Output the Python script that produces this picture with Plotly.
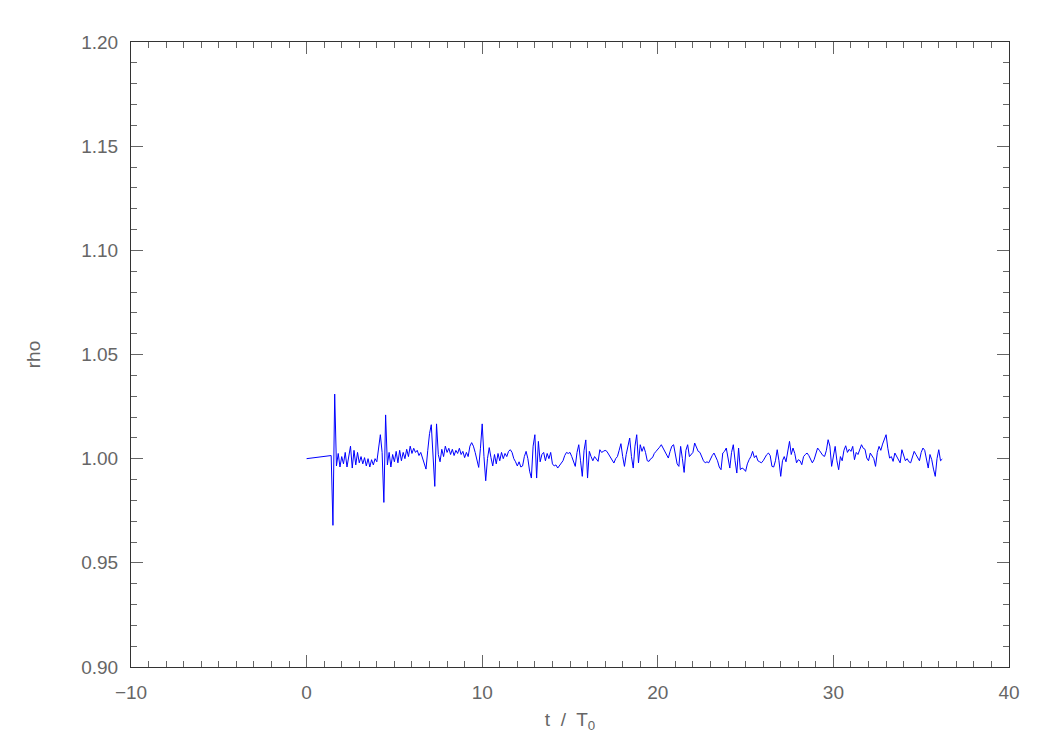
import numpy as np
import plotly.graph_objects as go

# Time samples: an initial point at t=0, then a regular 0.1 T0 grid from 1.4 to 36.2
t_start = [0.0]
t_grid = [round(v, 1) for v in np.arange(1.4, 36.25, 0.1)]
time = t_start + t_grid

rho_start = [1.0000]
rho_01 = [1.0015, 0.9680, 1.0310, 0.9965, 1.0025, 0.9960]
rho_02 = [1.0010, 0.9975, 1.0030, 0.9960, 1.0020, 1.0060, 0.9955, 1.0040, 0.9970, 1.0030]
rho_03 = [0.9980, 1.0010, 0.9975, 1.0005, 0.9965, 1.0000, 0.9960, 0.9995, 0.9970, 1.0000]
rho_04 = [0.9985, 1.0060, 1.0115, 1.0030, 0.9790, 1.0210, 0.9970, 1.0030, 0.9960, 1.0020]
rho_05 = [0.9985, 1.0035, 0.9980, 1.0040, 0.9990, 1.0030, 1.0000, 1.0045, 1.0010, 1.0060]
rho_06 = [1.0025, 1.0050, 1.0030, 1.0040, 1.0015, 1.0030, 1.0000, 0.9975, 0.9950, 1.0040]
rho_07 = [1.0120, 1.0163, 1.0000, 0.9867, 1.0167, 1.0020, 0.9985, 1.0045, 1.0010, 1.0060]
rho_08 = [1.0030, 1.0050, 1.0020, 1.0045, 1.0015, 1.0040, 1.0025, 1.0050, 1.0020, 1.0035]
rho_09 = [1.0005, 1.0030, 1.0010, 1.0060, 1.0077, 1.0060, 1.0030, 0.9990, 0.9958, 1.0050]
rho_10 = [1.0167, 1.0010, 0.9894, 1.0000, 1.0053, 1.0005, 0.9965, 1.0020, 0.9975, 1.0025]
rho_11 = [0.9990, 1.0030, 1.0000, 1.0025, 1.0010, 1.0035, 1.0043, 1.0030, 1.0000, 0.9985]
rho_12 = [0.9965, 0.9985, 0.9960, 0.9965, 1.0010, 1.0035, 1.0000, 0.9940, 0.9907, 1.0060]
rho_13 = [1.0115, 0.9907, 1.0083, 0.9985, 1.0020, 1.0030, 0.9990, 1.0025, 1.0000, 1.0030]
rho_14 = [0.9975, 0.9965, 0.9970, 0.9955, 0.9965, 0.9980, 0.9990, 1.0015, 1.0030, 1.0025]
rho_15 = [1.0030, 1.0010, 0.9985, 0.9963, 1.0030, 1.0067, 0.9990, 0.9915, 1.0040, 1.0090]
rho_16 = [0.9907, 1.0035, 1.0010, 0.9990, 1.0010, 0.9995, 0.9987, 1.0043, 1.0030, 1.0035]
rho_17 = [1.0040, 1.0035, 1.0020, 1.0010, 0.9990, 0.9979, 1.0000, 1.0010, 1.0040, 1.0072]
rho_18 = [1.0010, 0.9963, 1.0020, 1.0070, 1.0099, 1.0010, 0.9955, 1.0060, 1.0115, 0.9980]
rho_19 = [1.0067, 1.0035, 1.0058, 1.0030, 0.9990, 0.9987, 1.0000, 1.0005, 1.0025, 1.0035]
rho_20 = [1.0043, 1.0055, 1.0067, 1.0050, 1.0040, 1.0015, 1.0003, 1.0035, 1.0060, 1.0067]
rho_21 = [1.0020, 0.9975, 0.9963, 1.0059, 1.0000, 0.9934, 1.0040, 1.0067, 1.0010, 1.0020]
rho_22 = [1.0030, 1.0075, 1.0050, 1.0035, 1.0030, 1.0010, 0.9990, 0.9980, 0.9985, 0.9980]
rho_23 = [1.0000, 1.0015, 1.0027, 1.0010, 0.9990, 0.9960, 0.9947, 1.0027, 1.0035, 1.0051]
rho_24 = [0.9990, 0.9955, 1.0030, 1.0067, 0.9990, 0.9931, 1.0051, 0.9947, 0.9955, 0.9950]
rho_25 = [0.9939, 0.9975, 0.9995, 1.0010, 1.0035, 1.0005, 1.0015, 0.9990, 0.9985, 0.9980]
rho_26 = [0.9990, 1.0005, 1.0019, 1.0027, 1.0015, 0.9963, 0.9960, 0.9990, 1.0043, 0.9990]
rho_27 = [0.9915, 0.9990, 1.0010, 0.9985, 1.0040, 1.0083, 1.0020, 1.0051, 1.0025, 0.9980]
rho_28 = [0.9995, 0.9990, 0.9971, 1.0010, 1.0020, 1.0027, 1.0015, 0.9995, 0.9980, 0.9995]
rho_29 = [1.0030, 1.0051, 1.0040, 1.0030, 1.0015, 1.0011, 1.0040, 1.0091, 1.0060, 0.9963]
rho_30 = [1.0020, 1.0059, 0.9990, 0.9947, 1.0010, 0.9990, 1.0040, 1.0062, 1.0030, 1.0045]
rho_31 = [1.0035, 1.0059, 0.9995, 1.0030, 1.0020, 1.0045, 1.0067, 1.0050, 1.0045, 1.0003]
rho_32 = [0.9990, 1.0027, 1.0015, 1.0000, 0.9963, 1.0030, 1.0059, 1.0040, 1.0070, 1.0091]
rho_33 = [1.0115, 1.0050, 1.0003, 1.0010, 0.9987, 1.0027, 1.0010, 0.9995, 0.9980, 1.0043]
rho_34 = [1.0020, 0.9990, 1.0000, 0.9985, 0.9980, 1.0015, 1.0035, 1.0020, 1.0005, 0.9990]
rho_35 = [1.0030, 1.0051, 1.0040, 1.0000, 0.9955, 1.0020, 0.9995, 0.9950, 0.9915, 1.0000]
rho_36 = [1.0043, 0.9990, 0.9998]

rho = (rho_start + rho_01 + rho_02 + rho_03 + rho_04 + rho_05 + rho_06 + rho_07
       + rho_08 + rho_09 + rho_10 + rho_11 + rho_12 + rho_13 + rho_14 + rho_15
       + rho_16 + rho_17 + rho_18 + rho_19 + rho_20 + rho_21 + rho_22 + rho_23
       + rho_24 + rho_25 + rho_26 + rho_27 + rho_28 + rho_29 + rho_30 + rho_31
       + rho_32 + rho_33 + rho_34 + rho_35 + rho_36)
n = min(len(time), len(rho))
time = time[:n]
rho = rho[:n]

x_range = [-10, 40]
y_range = [0.90, 1.20]
x_title = "t  /  T<sub>0</sub>"
y_title = "rho"

font_family = "Liberation Sans, Arial, sans-serif"
text_color = "#666666"
axis_color = "#333333"

fig = go.Figure()
fig.add_trace(go.Scatter(x=time, y=rho, mode="lines",
                         line=dict(color="#0000FF", width=1), showlegend=False))

common = dict(showgrid=False, zeroline=False, showline=True, linecolor=axis_color,
              linewidth=1, mirror="allticks", ticks="inside", ticklen=12,
              tickwidth=1, tickcolor="#666666", ticklabelstandoff=8,
              tickfont=dict(family=font_family, size=19, color=text_color))

fig.update_xaxes(range=x_range, dtick=10, tick0=0,
                 minor=dict(dtick=1, ticks="inside", ticklen=6, tickcolor="#666666", showgrid=False),
                 title=dict(text=x_title, font=dict(family=font_family, size=19, color=text_color), standoff=10),
                 **common)
fig.update_yaxes(range=y_range, dtick=0.05, tick0=0.9, tickformat=".2f",
                 minor=dict(dtick=0.01, ticks="inside", ticklen=6, tickcolor="#666666", showgrid=False),
                 title=dict(text=y_title, font=dict(family=font_family, size=19, color=text_color), standoff=35),
                 **common)

fig.update_layout(width=1034, height=734, plot_bgcolor="white", paper_bgcolor="white",
                  margin=dict(l=123, r=33, t=34, b=75, autoexpand=False))

fig.write_html("out.html")
